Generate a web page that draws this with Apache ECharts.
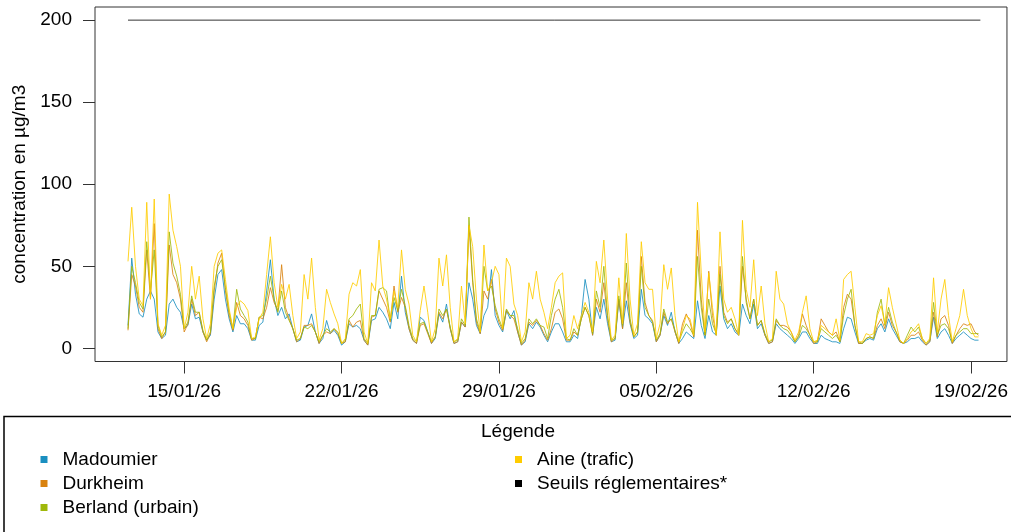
<!DOCTYPE html>
<html><head><meta charset="utf-8">
<script src="https://cdn.jsdelivr.net/npm/echarts@6/dist/echarts.min.js"></script>
<style>html,body{margin:0;padding:0;background:#fff}#c{width:1011px;height:532px}</style>
</head><body><div id="c"></div>
<script>
// Series names
const seriesNames = ['Madoumier', 'Durkheim', 'Berland (urbain)', 'Aine (trafic)'];
const thresholdName = 'Seuils réglementaires*';
const thresholdValue = 200;
// Sampling: values read every 4 hours from 12/01/26 12:00 (UTC)
const startTime = Date.UTC(2026, 0, 12, 12);
const stepHours = 4;

const madoumier = [
14,55,33,
21,19,30,35,30,10,
6,8,27,30,25,22,
12,14,27,18,19,10,
5,8,30,45,48,30,
18,10,20,15,15,12,
5,5,14,16,35,54,
30,20,25,18,21,12,
4,5,13,14,21,10,
3,6,17,9,11,8,
2,4,15,13,14,12,
5,2,17,18,25,22,
18,12,28,18,44,22,
12,5,3,19,17,10,
3,6,21,16,27,12,
3,4,16,13,40,30,
14,9,20,25,48,20,
14,10,23,18,23,10,
2,4,15,12,16,13,
8,4,10,15,15,10,
4,4,8,6,20,42,
30,8,25,18,30,15,
4,5,29,12,29,15,
6,8,36,20,18,15,
4,8,20,14,22,10,
3,6,10,8,6,29,
14,6,20,10,8,38,
18,12,15,10,8,27,
20,15,27,12,15,8,
3,4,15,12,10,8,
6,3,6,10,10,6,
3,3,8,6,5,4,
4,3,12,19,18,10,
3,3,5,6,5,12,
15,10,18,12,8,4,
3,4,6,6,7,4,
2,4,19,6,10,12,
8,3,6,8,10,8,
6,5,5
];
const durkheim = [
11,45,38,
25,22,60,30,76,12,
6,10,63,45,40,30,
10,15,30,20,22,10,
4,9,35,52,58,35,
20,11,28,20,18,14,
5,6,19,18,25,37,
28,23,51,25,18,12,
4,6,14,14,15,10,
3,8,10,9,12,9,
3,4,17,13,16,17,
5,2,19,20,35,30,
25,16,38,22,31,25,
12,5,3,14,15,9,
3,7,22,18,24,12,
3,4,16,13,75,40,
16,9,35,30,42,24,
16,11,23,20,18,10,
2,5,16,14,17,14,
9,5,12,22,24,18,
5,5,10,8,18,25,
20,8,30,22,40,18,
4,6,30,12,40,16,
7,10,56,28,20,17,
4,8,22,15,18,10,
3,15,21,16,7,72,
30,8,47,20,8,50,
22,16,18,12,8,50,
30,18,30,14,17,8,
3,4,17,14,14,13,
10,4,8,21,14,8,
3,4,18,14,10,8,
10,4,25,33,30,14,
3,3,6,7,6,14,
18,12,22,14,10,4,
3,5,8,8,10,5,
2,4,22,7,18,20,
14,3,8,12,15,14,
15,10,8
];
const berland = [
12,50,40,
28,24,65,35,60,14,
7,10,71,52,44,33,
12,16,32,22,22,11,
5,10,38,50,54,37,
22,12,36,24,20,16,
6,6,19,20,30,44,
30,22,35,22,17,12,
5,6,13,12,14,10,
4,8,12,10,12,10,
3,5,18,20,24,27,
6,3,20,20,36,37,
35,17,31,23,36,26,
14,6,4,15,16,10,
4,7,24,20,24,13,
4,5,18,14,80,42,
18,10,50,35,38,26,
18,12,24,20,20,12,
3,6,18,15,18,14,
13,6,20,30,36,25,
6,5,12,8,18,25,
20,9,35,25,50,20,
5,6,32,14,52,18,
7,10,50,25,20,16,
5,9,24,16,18,11,
4,10,15,12,8,56,
25,8,30,15,9,45,
20,15,18,12,9,56,
28,18,30,14,17,9,
4,5,18,14,12,11,
8,4,7,14,12,8,
4,4,12,10,8,6,
8,4,20,30,36,14,
4,3,6,7,6,22,
30,14,25,16,10,5,
3,8,13,10,13,6,
3,5,28,8,14,15,
12,4,8,10,12,12,
9,9,9
];
const aine = [
53,86,50,
30,26,89,30,91,15,
8,14,94,72,62,50,
12,22,50,30,44,18,
6,15,50,58,60,42,
24,12,25,29,27,23,
6,7,18,22,45,68,
40,25,39,30,39,20,
6,10,45,30,55,25,
5,12,36,28,21,15,
3,6,33,40,38,48,
10,3,40,35,66,38,
30,18,35,25,60,36,
27,8,4,23,38,22,
4,12,55,38,57,25,
4,6,38,15,75,62,
30,10,63,35,40,50,
45,12,55,50,27,20,
4,10,40,30,47,30,
22,12,25,40,44,46,
6,8,20,12,20,28,
22,10,53,40,66,30,
5,8,43,15,70,30,
8,15,65,40,36,36,
6,15,51,36,49,20,
4,12,20,18,8,89,
46,10,46,25,8,71,
30,22,25,18,8,78,
36,25,54,20,38,15,
4,6,47,30,27,15,
10,5,10,22,32,12,
4,5,14,12,10,8,
18,5,42,45,47,25,
4,4,9,8,9,20,
26,15,37,25,15,5,
3,6,10,12,15,6,
3,6,43,10,30,42,
20,4,12,20,36,20,
12,7,7
];

const yTicks = [0, 50, 100, 150, 200];
const xTickDates = [[2026,0,15],[2026,0,22],[2026,0,29],[2026,1,5],[2026,1,12],[2026,1,19]];
const xTickLabels = ['15/01/26', '22/01/26', '29/01/26', '05/02/26', '12/02/26', '19/02/26'];

const colors = ['#1a8fc0', '#d9820f', '#9fb80a', '#ffcc00'];
const FONT = 'Liberation Sans, Arial, sans-serif';
const HOUR = 3600000, DAY = 86400000;
const base = Date.UTC(2026, 0, 15);
const xMin = base - 3.968 * DAY;
const xMax = base + 36.599 * DAY;
const xTickValues = xTickDates.map(d => Date.UTC(d[0], d[1], d[2]));

function toPairs(arr) { return arr.map((v, i) => [startTime + i * stepHours * HOUR, v]); }
const allData = [madoumier, durkheim, berland, aine];
const endTime = startTime + (madoumier.length - 1) * stepHours * HOUR + 2 * HOUR;

const chart = echarts.init(document.getElementById('c'), null, { renderer: 'canvas' });
const series = allData.map((arr, k) => ({
  name: seriesNames[k], type: 'line', data: toPairs(arr), showSymbol: false, symbol: 'none',
  color: colors[k], lineStyle: { width: 1, color: colors[k], opacity: 0.85 }, z: 2 + k
}));
series.push({
  name: thresholdName, type: 'line', data: [[startTime, thresholdValue], [endTime, thresholdValue]],
  showSymbol: false, symbol: 'none', color: '#000', lineStyle: { width: 1, color: '#333' }, z: 1
});

const legendCommon = {
  orient: 'vertical', top: 450, icon: 'rect', itemWidth: 7, itemHeight: 7, itemGap: 5, padding: 0,
  selectedMode: false,
  textStyle: { fontSize: 19, lineHeight: 19, color: '#000', fontFamily: FONT, padding: [0, 0, 0, 10] }
};

chart.setOption({
  animation: false,
  backgroundColor: '#fff',
  textStyle: { fontFamily: FONT },
  grid: { left: 95, top: 7, width: 913, height: 354.5, show: true, borderColor: '#333', borderWidth: 1, backgroundColor: 'transparent' },
  xAxis: {
    type: 'value', min: xMin, max: xMax,
    axisLine: { show: false, onZero: false },
    splitLine: { show: false },
    axisTick: { show: true, length: 12, customValues: xTickValues, lineStyle: { color: '#333' } },
    axisLabel: { customValues: xTickValues, margin: 21, fontSize: 19, color: '#000', fontFamily: FONT,
      formatter: v => { const i = xTickValues.indexOf(v); return i >= 0 ? xTickLabels[i] : ''; } }
  },
  yAxis: {
    type: 'value', min: -8, max: 208,
    name: 'concentration en µg/m3', nameLocation: 'middle', nameGap: 66,
    nameTextStyle: { fontSize: 19, color: '#000', fontFamily: FONT },
    axisLine: { show: false, onZero: false },
    splitLine: { show: false },
    axisTick: { show: true, length: 12, customValues: yTicks, lineStyle: { color: '#333' } },
    axisLabel: { customValues: yTicks, margin: 23, fontSize: 19, color: '#000', fontFamily: FONT }
  },
  legend: [
    Object.assign({ data: seriesNames.slice(0, 3), left: 40.5 }, legendCommon),
    Object.assign({ data: [seriesNames[3], thresholdName], left: 515 }, legendCommon)
  ],
  graphic: [
    { type: 'rect', shape: { x: 4, y: 416.5, width: 1030, height: 140 }, style: { fill: 'none', stroke: '#000', lineWidth: 1.5 }, silent: true },
    { type: 'text', x: 518, y: 432, style: { text: 'Légende', fontSize: 19, fontFamily: FONT, fill: '#000', textAlign: 'center', textVerticalAlign: 'middle' }, silent: true }
  ],
  series: series
});
</script></body></html>
